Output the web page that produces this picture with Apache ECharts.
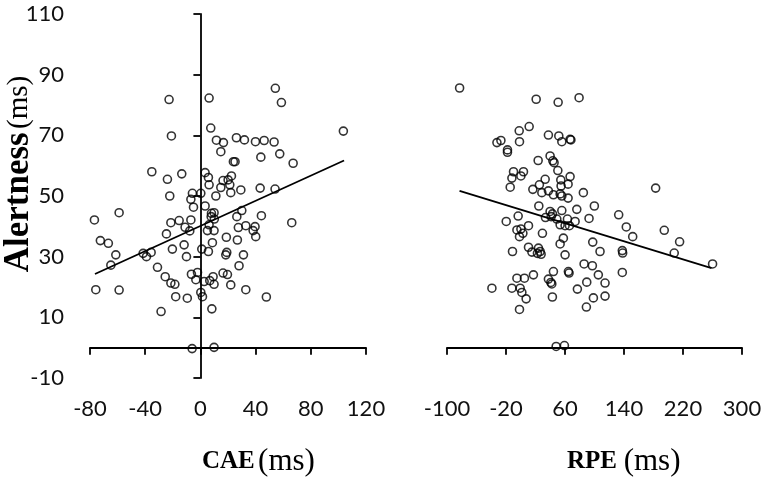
<!DOCTYPE html>
<html><head><meta charset="utf-8">
<script src="https://cdn.jsdelivr.net/npm/echarts@6/dist/echarts.min.js"></script>
<style>html,body{margin:0;padding:0;background:#fff}#c{width:768px;height:481px}</style>
</head><body><div id="c"></div>
<script>
// CAE (ms) vs Alertness (ms)
const caePoints = [
[-22.7,81.8],[6.3,82.3],[54.3,85.5],[58.7,80.8],[7.5,72.4],[-21,69.8],[103.6,71.4],[11.6,68.4],[16.7,67.6],[26.1,69.2],[31.9,68.5],[39.9,67.9],[46.2,68.3],[53.4,67.8],
[14.8,64.6],[23.9,61.3],[25.1,61.3],[43.8,62.8],[57.5,63.9],[67.2,60.8],
[-35.2,58],[-23.9,55.5],[-13.5,57.3],[3.4,57.7],[5.8,56.1],[6.3,53.7],[16.4,55.1],[20.1,55.3],[22.5,56.6],[21.3,53.7],[22,51.1],[14.8,52.8],[29.3,52],[43.3,52.6],[54.1,52.3],
[-22.2,50],[-5.8,50.9],[0.3,50.9],[-6.9,48.9],[-5,46.3],[11.2,50],[3.4,46.7],[30,45.2],[44.2,43.5],[8,44.3],[9.9,44.5],[7.8,43.2],[10.1,42.4],[26.4,43.2],[66.2,41.2],
[-21.4,41.2],[-15.4,41.9],[-6.9,42.1],[-11.1,39.7],[-7.7,38.5],[6.3,40.5],[5.1,38.6],[9.9,38.6],[27.5,39.6],[32.9,40.2],[39.6,39.9],[38.2,38.6],[40.1,36.6],
[-24.6,37.5],[18.8,36.4],[26.8,35.5],[8.7,34.6],[-35.7,31.4],[-20.3,32.5],[-11.8,33.9],[-10.1,30],[1,32.5],[5.8,31.7],[19.1,31.4],[18.4,30.6],[31.2,30.6],[28,27],
[-31.1,26.5],[-25.5,23.4],[-21.4,21.3],[-18.5,20.9],[-6.5,24.2],[-2.1,24.8],[-3.3,22.4],[2.7,21.8],[6.8,22.1],[9.2,23.4],[9.9,20.9],[16.4,24.6],[19.6,24.1],[22,20.7],[32.9,19.1],
[-17.9,16.8],[-9.5,16.3],[0.3,18.2],[1.5,16.8],[47.8,16.7],
[-76.8,42.1],[-58.9,44.5],[-72.5,35.3],[-66.7,34.4],[-61.3,30.6],[-64.9,27.2],[-41.5,31.1],[-39.1,30],[-75.8,19.1],[-58.9,19],[8.3,12.8],[-28.5,11.9],[-6,-0.3],[9.9,0.1]
];
// RPE (ms) vs Alertness (ms)
const rpePoints = [
[-82.9,85.6],[20.9,81.9],[50.7,80.9],[79.1,82.4],
[11.4,72.9],[-2.1,71.5],[-26.9,68.3],[-32.3,67.6],[-1.7,67.9],[37.5,70.1],[51.6,69.8],[55.7,67.9],[66.9,68.7],[68,68.5],
[-18,65.2],[-18,64.4],[39.8,63.2],[43.5,61.6],[45.2,61],[23.6,61.7],[50.3,58.4],
[-9.8,58],[3.7,58],[-12,55.9],[0.2,56.6],[66.9,56.4],[54.3,55.3],[64.2,53.9],[54.7,53.3],[33.1,55.5],
[-14.3,52.9],[16.4,52.2],[25.3,53.7],[28.6,51.1],[37.5,51.7],[44.3,50.4],[53.4,50.7],[55.7,50],[64.2,49.3],[84.9,51.1],
[99.8,46.7],[76,45.6],[24.5,46.7],[55.7,45.2],[39.8,44.9],[43,44.1],[41.2,43.2],[33.5,42.9],[92.6,42.6],[48.9,42.4],[63.3,42.4],[-3.5,43.4],[-19.7,41.6],
[53.4,40.5],[60.1,40.2],[66,40.2],[73.7,41.6],[10.5,40.2],[-5.2,38.8],[0.2,39.1],[2.9,37.7],[-1.7,36.6],[29.4,37.7],[97.6,34.8],[57.8,36.1],[53.4,34.2],
[-11.2,31.7],[10.5,33.1],[15.1,31.5],[24,32.8],[26.3,31.7],[27.6,30.8],[22.6,31.1],[60.1,30.6],[107.5,31.7],[85.9,27.6],[97.1,27],
[44.3,25.1],[64.6,25.1],[65.5,24.6],[17.2,24],[5,22.9],[-5.2,22.9],[105.2,24],[37.5,22.6],[40.8,21.5],[42.1,21],[89.5,21.6],[114.3,21.3],
[-39.1,19.6],[-12,19.6],[-0.8,19.6],[1.5,18.2],[76.8,19.3],[42.9,16.7],[98.5,16.4],[114.3,17],
[182.9,52.6],[132.8,43.8],[143.1,39.8],[194.6,38.7],[151.8,36.6],[215.4,34.9],[137.7,32],[138.2,31.2],[208.1,31.2],[260.1,27.6],[137.7,24.8],[7.3,16.1],[89,13.4],[-1.7,12.6],[48,0.4],[59.2,0.7]
];
// fitted trend lines (endpoints)
const caeTrend = [[-76.4,24.3],[104.1,61.7]];
const rpeTrend = [[-83,51.7],[258.7,26.2]];
// axis ranges / tick labels
const yTicks = [-10,10,30,50,70,90,110];
const caeTicks = [-80,-40,0,40,80,120];
const rpeTicks = [-100,-20,60,140,220,300];

const labelFont = {fontFamily:'Lato', fontSize:22, color:'#111'};
const axisLine = {show:true, lineStyle:{color:'#000', width:1.8}};
const axisTick = {show:true, inside:false, length:7, lineStyle:{color:'#000', width:1.8}};

const scatterStyle = {color:'rgba(0,0,0,0)', borderColor:'#000', borderWidth:1.6};

const chart = echarts.init(document.getElementById('c'), null, {renderer:'canvas'});
chart.setOption({
  animation:false,
  backgroundColor:'#fff',
  grid:[
    {left:90, top:14, width:276, height:364},
    {left:447, top:14, width:295, height:364}
  ],
  xAxis:[
    {gridIndex:0, type:'value', min:caeTicks[0], max:caeTicks[caeTicks.length-1], interval:caeTicks[1]-caeTicks[0],
     axisLine:axisLine, axisTick:axisTick, splitLine:{show:false},
     axisLabel:Object.assign({margin:20}, labelFont)},
    {gridIndex:1, type:'value', min:rpeTicks[0], max:rpeTicks[rpeTicks.length-1], interval:rpeTicks[1]-rpeTicks[0],
     axisLine:axisLine, axisTick:axisTick, splitLine:{show:false},
     axisLabel:Object.assign({margin:20}, labelFont)}
  ],
  yAxis:[
    {gridIndex:0, type:'value', min:yTicks[0], max:yTicks[yTicks.length-1], interval:yTicks[1]-yTicks[0],
     axisLine:axisLine, axisTick:axisTick, splitLine:{show:false},
     axisLabel:Object.assign({margin:26}, labelFont)},
    {gridIndex:1, type:'value', min:yTicks[0], max:yTicks[yTicks.length-1], interval:yTicks[1]-yTicks[0],
     show:false, splitLine:{show:false}}
  ],
  graphic:[
    {type:'text', x:202, y:462, style:{text:'{b|CAE} {n|(ms)}', verticalAlign:'middle', align:'left',
      rich:{b:{fontFamily:'Liberation Serif', fontWeight:'bold', fontSize:25, fill:'#000'},
            n:{fontFamily:'Liberation Serif', fontSize:31, fill:'#000'}}}},
    {type:'text', x:567, y:462, style:{text:'{b|RPE}  {n|(ms)}', verticalAlign:'middle', align:'left',
      rich:{b:{fontFamily:'Liberation Serif', fontWeight:'bold', fontSize:25, fill:'#000'},
            n:{fontFamily:'Liberation Serif', fontSize:31, fill:'#000'}}}},
    {type:'text', x:19, y:174, rotation:Math.PI/2, style:{text:'{b|Alertness} {n|(ms)}', verticalAlign:'middle', align:'center',
      rich:{b:{fontFamily:'Liberation Serif', fontWeight:'bold', fontSize:35, fill:'#000'},
            n:{fontFamily:'Liberation Serif', fontSize:29, fill:'#000'}}}}
  ],
  series:[
    {type:'scatter', xAxisIndex:0, yAxisIndex:0, data:caePoints, symbol:'circle', symbolSize:8, itemStyle:scatterStyle, z:3},
    {type:'line', xAxisIndex:0, yAxisIndex:0, data:caeTrend, symbol:'none', lineStyle:{color:'#000', width:1.8}, z:2},
    {type:'scatter', xAxisIndex:1, yAxisIndex:1, data:rpePoints, symbol:'circle', symbolSize:8, itemStyle:scatterStyle, z:3},
    {type:'line', xAxisIndex:1, yAxisIndex:1, data:rpeTrend, symbol:'none', lineStyle:{color:'#000', width:1.8}, z:2}
  ]
});
</script></body></html>
